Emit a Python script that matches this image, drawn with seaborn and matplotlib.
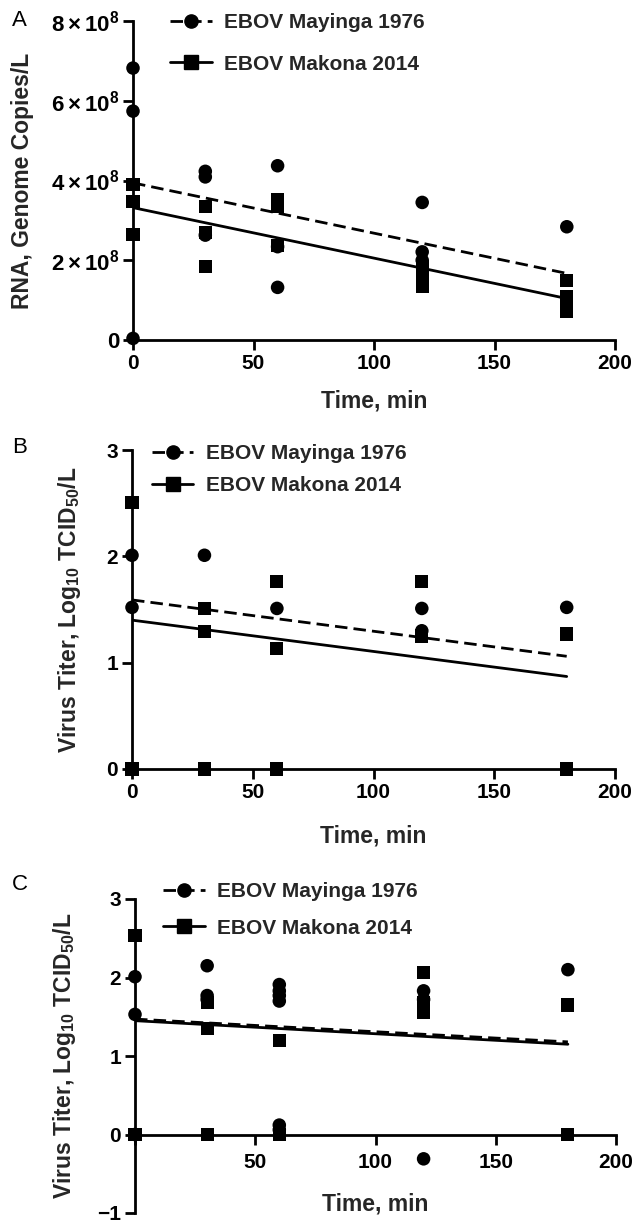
import numpy as np
import pandas as pd
import matplotlib
matplotlib.use("Agg")
import matplotlib.pyplot as plt
import seaborn as sns
from matplotlib.lines import Line2D

sns.set_theme(style="ticks")
plt.rcParams['font.family'] = ['Liberation Sans', 'DejaVu Sans']
plt.rcParams['font.weight'] = 'bold'
plt.rcParams['mathtext.fontset'] = 'custom'
plt.rcParams['mathtext.rm'] = 'Liberation Sans:bold'
plt.rcParams['mathtext.it'] = 'Liberation Sans:bold'
plt.rcParams['mathtext.bf'] = 'Liberation Sans:bold'
plt.rcParams['mathtext.default'] = 'rm'

# ---------------- data ----------------
series_names = ["EBOV Mayinga 1976", "EBOV Makona 2014"]
fit_time = [0, 180]

# Panel A: RNA, genome copies/L
a_mayinga_time = [0, 0, 0, 30, 30, 30, 60, 60, 60, 120, 120, 120, 180]
a_mayinga_value = [6.82e8, 5.74e8, 0.04e8, 4.23e8, 4.09e8, 2.63e8, 4.37e8, 1.32e8,
                   2.34e8, 3.45e8, 2.21e8, 2.00e8, 2.84e8]
a_makona_time = [0, 0, 0, 30, 30, 30, 60, 60, 60, 120, 120, 120, 120, 180, 180, 180, 180]
a_makona_value = [3.90e8, 3.48e8, 2.65e8, 3.34e8, 2.70e8, 1.84e8, 3.51e8, 3.34e8, 2.38e8,
                  1.84e8, 1.59e8, 1.45e8, 1.34e8, 1.50e8, 1.09e8, 0.92e8, 0.71e8]
a_mayinga_fit = [3.94e8, 1.67e8]
a_makona_fit = [3.32e8, 1.04e8]

# Panel B: virus titer
b_mayinga_time = [0, 0, 0, 30, 60, 120, 120, 180]
b_mayinga_value = [2.01, 1.52, 0.0, 2.01, 1.51, 1.51, 1.30, 1.52]
b_makona_time = [0, 0, 30, 30, 30, 60, 60, 60, 120, 120, 180, 180]
b_makona_value = [2.51, 0.0, 1.51, 1.29, 0.0, 1.76, 1.13, 0.0, 1.76, 1.25, 1.27, 0.0]
b_mayinga_fit = [1.59, 1.06]
b_makona_fit = [1.40, 0.87]

# Panel C: virus titer
c_mayinga_time = [0, 0, 0, 30, 30, 30, 60, 60, 60, 60, 60, 60, 120, 120, 120, 180]
c_mayinga_value = [2.01, 1.53, 0.0, 2.15, 1.77, 1.72, 1.91, 1.83, 1.77, 1.70, 0.12, 0.06,
                   1.83, 1.72, -0.31, 2.10]
c_makona_time = [0, 0, 30, 30, 30, 60, 60, 120, 120, 120, 180, 180]
c_makona_value = [2.53, 0.0, 1.68, 1.35, 0.0, 1.20, 0.0, 2.06, 1.68, 1.56, 1.65, 0.0]
c_mayinga_fit = [1.47, 1.18]
c_makona_fit = [1.45, 1.15]

x_ticks = [0, 50, 100, 150, 200]
a_y_ticks = [0, 2e8, 4e8, 6e8, 8e8]
a_y_ticklabels = ["0", r"$2\times10^{8}$", r"$4\times10^{8}$", r"$6\times10^{8}$", r"$8\times10^{8}$"]
titer_y_ticks_b = [0, 1, 2, 3]
titer_y_ticks_c = [-1, 0, 1, 2, 3]
c_y_ticklabels = ["\u22121", "0", "1", "2", "3"]
c_x_ticklabels = ["", "50", "100", "150", "200"]

# ---------------- figure ----------------
W, H = 634, 1225
fig = plt.figure(figsize=(W / 100, H / 100), dpi=100)


def px_axes(left, top, right, bottom):
    return fig.add_axes([left / W, 1 - bottom / H, (right - left) / W, (bottom - top) / H])


ax_a = px_axes(133, 21, 615, 340)
ax_b = px_axes(132, 450, 615, 769)
ax_c = px_axes(135, 899, 616, 1213)

LW = 2.0
MS = 95
TICK_FS = 15
LABEL_FS = 16.5
LEG_FS = 15
DASH = (0, (4.5, 2.2))


def draw(ax, mt, mv, kt, kv, mfit, kfit, xlabelpad):
    sns.scatterplot(x=mt, y=mv, ax=ax, marker='o', color='black', s=MS,
                    edgecolor='none', linewidth=0, clip_on=False, zorder=4)
    sns.scatterplot(x=kt, y=kv, ax=ax, marker='s', color='black', s=MS * 0.95,
                    edgecolor='none', linewidth=0, clip_on=False, zorder=4)
    sns.lineplot(x=fit_time, y=mfit, ax=ax, color='black', lw=LW, linestyle=DASH, zorder=3)
    sns.lineplot(x=fit_time, y=kfit, ax=ax, color='black', lw=LW, zorder=3)
    sns.despine(ax=ax)
    for sp in ('left', 'bottom'):
        ax.spines[sp].set_linewidth(LW)
        ax.spines[sp].set_color('black')
    ax.tick_params(axis='both', length=7, width=LW, color='black', labelsize=TICK_FS,
                   labelcolor='black', pad=3)
    ax.set_xlim(0, 200)
    ax.set_xticks(x_ticks)
    ax.set_xlabel("Time, min", fontsize=LABEL_FS, fontweight='bold', labelpad=xlabelpad)
    handles = [Line2D([], [], color='black', lw=LW, linestyle=DASH, marker='o', ms=9.5),
               Line2D([], [], color='black', lw=LW, marker='s', ms=9.5)]
    return handles


def add_legend(ax, handles, x, y, spacing):
    ax.legend(handles, series_names, loc='upper left', bbox_to_anchor=(x, y), frameon=False,
              fontsize=LEG_FS, handlelength=2.0, handletextpad=0.6, labelspacing=spacing,
              borderpad=0, borderaxespad=0)


h = draw(ax_a, a_mayinga_time, a_mayinga_value, a_makona_time, a_makona_value,
         a_mayinga_fit, a_makona_fit, 12)
ax_a.set_ylim(0, 8e8)
ax_a.set_yticks(a_y_ticks)
ax_a.set_yticklabels(a_y_ticklabels)
ax_a.tick_params(axis='y', labelsize=16)
ax_a.set_ylabel("RNA, Genome Copies/L", fontsize=LABEL_FS, fontweight='bold', labelpad=12)
add_legend(ax_a, h, 0.077, 1.025, 1.08)

h = draw(ax_b, b_mayinga_time, b_mayinga_value, b_makona_time, b_makona_value,
         b_mayinga_fit, b_makona_fit, 16)
ax_b.set_ylim(0, 3)
ax_b.set_yticks(titer_y_ticks_b)
ax_b.set_ylabel(r"Virus Titer, Log$_{10}$ TCID$_{50}$/L", fontsize=LABEL_FS, fontweight='bold',
                labelpad=17)
add_legend(ax_b, h, 0.041, 1.019, 0.65)

h = draw(ax_c, c_mayinga_time, c_mayinga_value, c_makona_time, c_makona_value,
         c_mayinga_fit, c_makona_fit, 12)
ax_c.set_ylim(-1, 3)
ax_c.set_yticks(titer_y_ticks_c)
ax_c.set_yticklabels(c_y_ticklabels)
ax_c.spines['bottom'].set_position(('data', 0))
ax_c.set_xticklabels(c_x_ticklabels)
ax_c.tick_params(axis='x', pad=6)
ax_c.set_ylabel(r"Virus Titer, Log$_{10}$ TCID$_{50}$/L", fontsize=LABEL_FS, fontweight='bold',
                labelpad=14)
ax_c.xaxis.set_label_coords(0.5, 0.064)
add_legend(ax_c, h, 0.058, 1.054, 0.84)

for letter, ypx in (("A", 21), ("B", 448), ("C", 885)):
    fig.text(12 / W, 1 - ypx / H, letter, fontsize=16, fontweight='normal', ha='left',
             va='center', color='black')

fig.savefig("out.png", dpi=100, facecolor='white')
